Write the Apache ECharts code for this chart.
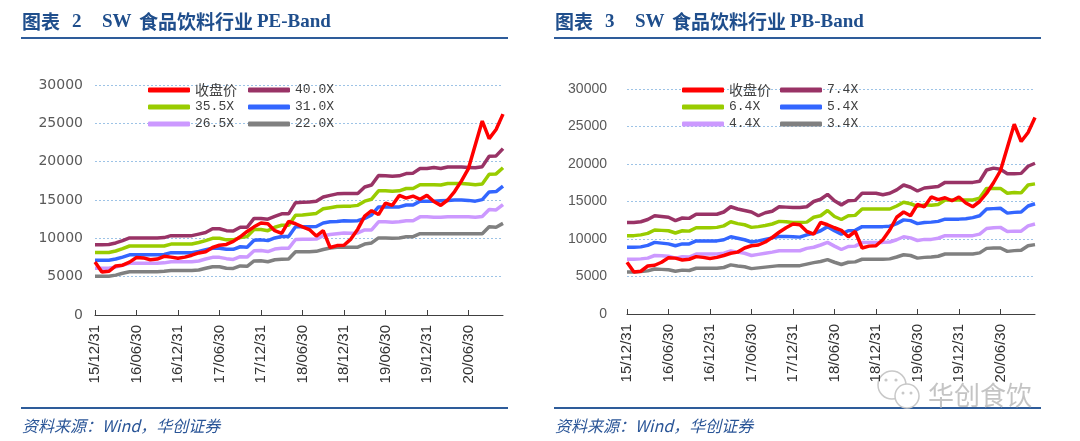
<!DOCTYPE html>
<html>
<head>
<meta charset="utf-8">
<script src="https://cdn.jsdelivr.net/npm/echarts@6/dist/echarts.min.js"></script>
<style>
html,body{margin:0;padding:0;background:#fff;}
#c{width:1080px;height:441px;}
</style>
</head>
<body>
<div id="c"></div>
<script>
const categories = ['15/12/31','16/01/31','16/02/29','16/03/31','16/04/30','16/05/31','16/06/30','16/07/31','16/08/31','16/09/30','16/10/31','16/11/30',
'16/12/31','17/01/31','17/02/28','17/03/31','17/04/30','17/05/31','17/06/30','17/07/31','17/08/31','17/09/30','17/10/31','17/11/30',
'17/12/31','18/01/31','18/02/28','18/03/31','18/04/30','18/05/31','18/06/30','18/07/31','18/08/31','18/09/30','18/10/31','18/11/30',
'18/12/31','19/01/31','19/02/28','19/03/31','19/04/30','19/05/31','19/06/30','19/07/31','19/08/31','19/09/30','19/10/31','19/11/30',
'19/12/31','20/01/31','20/02/29','20/03/31','20/04/30','20/05/31','20/06/30','20/07/31','20/08/31','20/09/30','20/10/31','20/11/30'];

const closePrice = [6900,5600,5700,6400,6500,6900,7500,7450,7200,7300,7650,7550,
7400,7550,7800,8100,8250,8800,9100,9200,9600,10200,10900,11500,
12000,11900,11000,10650,12200,11900,11500,11150,10300,11000,8800,9050,
9100,9900,11200,12900,13600,13100,14600,14300,15600,15250,15500,15100,
15600,14800,14300,15000,16100,17500,19100,22200,25300,23000,24200,26200];

const pe40 = [9150,9150,9200,9400,9700,10050,10050,10050,10050,10050,10100,10350,
10350,10350,10350,10550,10750,11250,11250,11000,10950,11450,11450,12600,
12600,12500,12850,13200,13200,14650,14700,14750,14850,15400,15600,15800,
15850,15850,15850,16700,16950,18200,18150,18100,18150,18450,18500,19100,
19100,19250,19100,19300,19300,19300,19250,19200,19350,20700,20750,21700];
const pe355 = [8150,8150,8150,8350,8650,9000,9000,9000,9000,9000,9000,9250,
9250,9250,9250,9450,9700,10000,10000,9800,9800,10100,10250,11150,
11150,11000,11450,11700,11700,13000,13050,13150,13250,13850,14000,14150,
14200,14200,14300,14850,15100,16200,16200,16150,16200,16500,16500,17000,
17000,17000,16950,17150,17150,17150,17100,17000,17100,18350,18400,19200];
const pe31 = [7150,7150,7150,7300,7550,7850,7850,7850,7850,7850,7900,8130,
8130,8130,8130,8300,8500,8700,8700,8570,8570,8900,8850,9750,
9800,9700,10050,10250,10250,11500,11500,11500,11550,12000,12150,12200,
12300,12250,12300,12600,13050,14100,14100,14100,14100,14350,14350,14850,
14850,14850,14900,14950,15000,15000,14950,14850,15050,16050,16100,16800];
const pe265 = [6100,6100,6100,6250,6500,6750,6750,6750,6750,6750,6800,6950,
6950,6950,6950,7050,7300,7520,7520,7350,7250,7600,7550,8380,
8400,8270,8600,8700,8700,9850,9870,9870,9900,10350,10500,10600,
10700,10650,10700,11100,11100,12150,12150,12100,12150,12300,12300,12800,
12800,12750,12750,12800,12800,12800,12800,12750,12850,13750,13700,14400];
const pe22 = [5050,5050,5050,5200,5450,5650,5650,5650,5650,5650,5700,5800,
5800,5800,5800,5870,6100,6300,6300,6100,6080,6400,6350,7050,
7070,6950,7200,7270,7300,8250,8250,8250,8300,8550,8750,8850,
8850,8850,8850,9250,9400,10050,10050,10000,10050,10200,10220,10600,
10600,10600,10600,10600,10600,10600,10600,10600,10600,11500,11450,11950];

const pb74 = [12200,12200,12300,12600,13100,13000,12900,12450,12800,12750,13300,13300,
13300,13300,13600,14300,14000,13800,13600,13100,13500,13700,14300,14250,
14200,14200,14300,15000,15300,15950,15100,14550,15100,15150,16100,16100,
16100,15900,16100,16550,17200,16900,16400,16800,16900,17000,17550,17550,
17550,17550,17550,17700,19200,19450,19300,18700,18700,18750,19700,20100];
const pb64 = [10450,10450,10550,10750,11200,11150,11100,10800,11100,11050,11500,11500,
11500,11550,11750,12300,12050,11900,11550,11650,11800,12000,12350,12300,
12200,12200,12250,12900,13100,13800,13000,12600,13100,13150,14000,14000,
14000,14000,14000,14400,14900,14700,14350,14550,14500,14600,15200,15200,
15200,15200,15200,15450,16750,16750,16750,16100,16200,16150,17200,17350];
const pb54 = [8900,8900,8950,9150,9550,9450,9350,9100,9350,9350,9750,9750,
9750,9750,9900,10300,10100,9900,9600,9750,9950,10150,10350,10350,
10300,10250,10550,10750,11100,11650,11100,10650,11100,11150,11650,11650,
11650,11650,11700,12050,12550,12450,12050,12200,12250,12350,12650,12650,
12650,12700,12850,13100,14000,14050,14100,13450,13550,13600,14400,14700];
const pb44 = [7300,7300,7350,7450,7800,7780,7700,7450,7650,7600,8000,8000,
8000,8000,8100,8400,8250,8100,7800,7950,8100,8250,8430,8430,
8430,8430,8750,8900,9200,9550,9050,8600,9000,9050,9550,9550,
9550,9550,9600,9900,10300,10150,9800,9950,9950,10100,10450,10450,
10450,10450,10450,10650,11400,11500,11550,11000,11050,11050,11750,12000];
const pb34 = [5600,5600,5650,5750,6000,5950,5900,5700,5850,5800,6100,6100,
6100,6100,6200,6550,6400,6300,6050,6150,6250,6350,6450,6450,
6450,6450,6650,6850,7000,7250,6900,6600,6900,6950,7300,7300,
7300,7300,7350,7600,7900,7800,7450,7550,7600,7700,8000,8000,
8000,8000,8000,8150,8750,8800,8800,8350,8450,8500,9100,9250];

const peNames = ['40.0X','35.5X','31.0X','26.5X','22.0X'];
const pbNames = ['7.4X','6.4X','5.4X','4.4X','3.4X'];
const closeName = '收盘价';
const yTicks = {min:0, max:30000, interval:5000};

const bandColors = ['#993366','#99cc00','#3366ff','#cc99ff','#808080'];
const redColor = '#ff0000';

const chart = echarts.init(document.getElementById('c'), null, {renderer:'canvas'});

function xAxisCfg(gi){
  return {
    type:'category', gridIndex:gi, data:categories, boundaryGap:false,
    axisLine:{lineStyle:{color:'#404040', width:1}},
    axisTick:{inside:true, length:5, interval:5, lineStyle:{color:'#404040'}},
    axisLabel:{interval:5, rotate:90, margin:10, color:'#333333', fontSize:15, fontFamily:'Liberation Sans, Arial, sans-serif'},
    splitLine:{show:false}
  };
}
function yAxisCfg(gi, fam, margin){
  return {
    type:'value', gridIndex:gi, min:yTicks.min, max:yTicks.max, interval:yTicks.interval,
    axisLine:{show:false}, axisTick:{show:false},
    axisLabel:{color:'#595959', fontSize:14, fontFamily:fam, margin:margin, formatter:v=>String(v)},
    splitLine:{lineStyle:{color:'#9dc3e6', type:[2,2], width:1}}
  };
}
function lineSeries(name, data, color, gi, z){
  return {type:'line', name:name, data:data, xAxisIndex:gi, yAxisIndex:gi,
    showSymbol:false, symbol:'none', lineStyle:{color:color, width:3.5}, itemStyle:{color:color},
    z:z, animation:false};
}

const peData = [pe40, pe355, pe31, pe265, pe22];
const pbData = [pb74, pb64, pb54, pb44, pb34];
const series = [];
peNames.forEach((n,i)=>series.push(lineSeries(n, peData[i], bandColors[i], 0, 2)));
series.push(lineSeries(closeName, closePrice, redColor, 0, 3));
pbNames.forEach((n,i)=>series.push(lineSeries(n, pbData[i], bandColors[i], 1, 2)));
series.push(lineSeries(closeName, closePrice, redColor, 1, 3));

const monoText = {fontFamily:'Liberation Mono, monospace', fontSize:13, color:'#404040', lineHeight:14};
const cjkText = {fontFamily:'Noto Sans CJK SC', fontSize:14, color:'#404040', lineHeight:14};
function legendCfg(left, names){
  return {
    orient:'vertical', left:left, top:83, itemWidth:42, itemHeight:5, itemGap:3,
    icon:'roundRect', selectedMode:false, padding:0,
    textStyle:monoText,
    data:names.map(n=>({name:n, textStyle: n===closeName ? cjkText : monoText}))
  };
}

const titleBlue = '#1f4e8c';
const srcBlue = '#2a5597';
function titleGraphics(dx, num, band){
  const fam = 'Liberation Serif, Noto Sans CJK SC, serif';
  const mk = (x, t, fam2)=>({type:'text', x:x+dx, y:22, style:{text:t, fill:titleBlue,
      font:'bold 19px '+(fam2||fam), verticalAlign:'middle'}});
  return [
    mk(22, '图表', 'Noto Sans CJK SC'),
    mk(72, num),
    mk(102, 'SW'),
    mk(139, '食品饮料行业', 'Noto Sans CJK SC'),
    mk(257, band),
    {type:'line', shape:{x1:21+dx, y1:38, x2:508+dx, y2:38}, style:{stroke:'#2e5c9a', lineWidth:2}},
    {type:'line', shape:{x1:21+dx, y1:408, x2:508+dx, y2:408}, style:{stroke:'#2e5c9a', lineWidth:2}},
    {type:'text', x:22+dx, y:426, style:{text:'资料来源：Wind，华创证券', fill:srcBlue,
      font:'italic 16px Noto Sans CJK SC', verticalAlign:'middle'}}
  ];
}
const graphics = [].concat(titleGraphics(0,'2','PE-Band'), titleGraphics(533,'3','PB-Band'));
// watermark
graphics.push(
  {type:'circle', shape:{cx:892, cy:385, r:14}, style:{stroke:'#c8c8c8', fill:'#ffffff', lineWidth:1.5}},
  {type:'circle', shape:{cx:886, cy:380, r:1.6}, style:{fill:'#c8c8c8'}},
  {type:'circle', shape:{cx:896, cy:380, r:1.6}, style:{fill:'#c8c8c8'}},
  {type:'circle', shape:{cx:907, cy:396, r:12}, style:{stroke:'#c8c8c8', fill:'#ffffff', lineWidth:1.5}},
  {type:'circle', shape:{cx:903, cy:393, r:1.5}, style:{fill:'#c8c8c8'}},
  {type:'circle', shape:{cx:911, cy:393, r:1.5}, style:{fill:'#c8c8c8'}},
  {type:'text', x:928, y:395, style:{text:'华创食饮', fill:'#c4c4c4', font:'26px Noto Sans CJK SC', verticalAlign:'middle'}}
);

chart.setOption({
  animation:false,
  backgroundColor:'#ffffff',
  grid:[
    {left:95, top:85, width:408, height:230},
    {left:627, top:89, width:408, height:225}
  ],
  xAxis:[xAxisCfg(0), xAxisCfg(1)],
  yAxis:[yAxisCfg(0,'DejaVu Sans, sans-serif',12), yAxisCfg(1,'Liberation Sans, Arial, sans-serif',20)],
  legend:[
    legendCfg(148, [closeName, peNames[1], peNames[3]]),
    legendCfg(248, [peNames[0], peNames[2], peNames[4]]),
    legendCfg(682, [closeName, pbNames[1], pbNames[3]]),
    legendCfg(780, [pbNames[0], pbNames[2], pbNames[4]])
  ],
  series:series,
  graphic:{elements:graphics}
});
</script>
</body>
</html>
